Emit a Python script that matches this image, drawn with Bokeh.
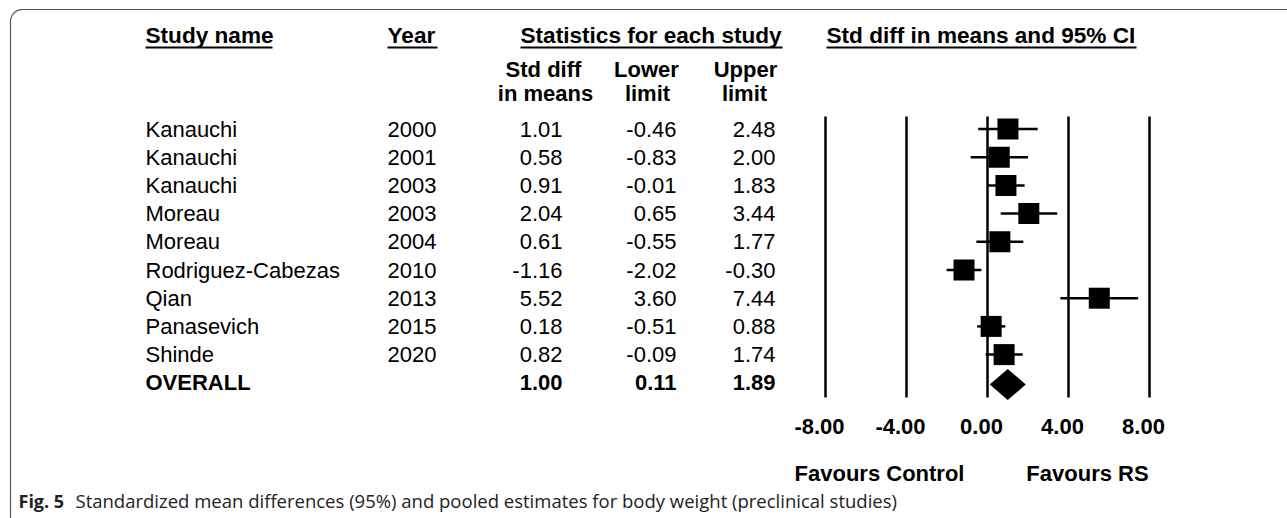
import math
from bokeh.plotting import figure
from bokeh.models import Range1d
from bokeh.core.properties import value
from bokeh.embed import file_html
from bokeh.resources import INLINE

# ---------------- data ----------------
studies = ["Kanauchi", "Kanauchi", "Kanauchi", "Moreau", "Moreau",
           "Rodriguez-Cabezas", "Qian", "Panasevich", "Shinde"]
years = ["2000", "2001", "2003", "2003", "2004", "2010", "2013", "2015", "2020"]
smd = [1.01, 0.58, 0.91, 2.04, 0.61, -1.16, 5.52, 0.18, 0.82]
lower = [-0.46, -0.83, -0.01, 0.65, -0.55, -2.02, 3.60, -0.51, -0.09]
upper = [2.48, 2.00, 1.83, 3.44, 1.77, -0.30, 7.44, 0.88, 1.74]
overall_label = "OVERALL"
overall = [1.00, 0.11, 1.89]  # estimate, lower, upper
ticks = [-8.0, -4.0, 0.0, 4.0, 8.0]
favours = ["Favours Control", "Favours RS"]
caption_bold = "Fig. 5"
caption_text = "Standardized mean differences (95%) and pooled estimates for body weight (preclinical studies)"

# ---------------- layout helpers (page pixels -> data) ----------------
W, H = 1287, 518
PX0, PY0 = 0, 0            # page position of the canvas
X0, SX = 987.0, 20.25      # page x of effect 0, px per unit
Y0, SY = 128.5, 28.2       # page y of row 0, px per row


def dx(px):
    return (px - X0) / SX


def dy(py):
    return (py - Y0) / SY


p = figure(width=W, height=H,
           x_range=Range1d(dx(PX0), dx(PX0 + W)),
           y_range=Range1d(dy(PY0 + H), dy(PY0)),
           x_axis_type=None, y_axis_type=None,
           output_backend="svg", toolbar_location=None, min_border=0)
p.outline_line_color = None
p.background_fill_color = "white"
p.border_fill_color = "white"

ARIAL = value("Liberation Sans")
BLACK = "#000000"

# ---- frame (top + left border with rounded corner) ----
r = 12
cx, cy = 10 + r, 9 + r
arc_x = [cx - r * math.cos(t * math.pi / 2 / 12) for t in range(13)]
arc_y = [cy - r * math.sin(t * math.pi / 2 / 12) for t in range(13)]
fx = [10] + arc_x + [1295]
fy = [525] + arc_y + [9]
p.line([dx(v) for v in fx], [dy(v) for v in fy], line_color="#555555", line_width=1.2)

rows = list(range(len(studies)))
orow = len(studies)

# ---- headers ----
hdr_font = "22.6px"
headers = [("Study name", 145, 145, 272), ("Year", 387, 387, 437),
           ("Statistics for each study", 520, 520, 782),
           ("Std diff in means and 95% CI", 826, 826, 1136)]
for txt, x, u0, u1 in headers:
    p.text(x=[dx(x)], y=[dy(35)], text=[txt], text_font=ARIAL, text_font_size=hdr_font,
           text_font_style="bold", text_baseline="middle", text_align="left", text_color=BLACK)
    p.segment(x0=[dx(u0)], y0=[dy(47)], x1=[dx(u1)], y1=[dy(47)], line_color=BLACK, line_width=2)

sub = [("Std diff", 543, 69), ("in means", 545, 93), ("Lower", 646, 69), ("limit", 647, 93),
       ("Upper", 745, 69), ("limit", 744, 93)]
for txt, x, y in sub:
    p.text(x=[dx(x)], y=[dy(y)], text=[txt], text_font=ARIAL, text_font_size="22px",
           text_font_style="bold", text_baseline="middle", text_align="center", text_color=BLACK)

# ---- study rows ----
common = dict(text_font=ARIAL, text_font_size="22px", text_baseline="middle", text_color=BLACK)
p.text(x=[dx(145)] * len(rows), y=rows, text=studies, text_align="left", **common)
p.text(x=[dx(387)] * len(rows), y=rows, text=years, text_align="left", **common)
p.text(x=[dx(562)] * len(rows), y=rows, text=[f"{v:.2f}" for v in smd], text_align="right", **common)
p.text(x=[dx(676)] * len(rows), y=rows, text=[f"{v:.2f}" for v in lower], text_align="right", **common)
p.text(x=[dx(775)] * len(rows), y=rows, text=[f"{v:.2f}" for v in upper], text_align="right", **common)

# overall row
p.text(x=[dx(145)], y=[orow], text=[overall_label], text_align="left", text_font_style="bold", **common)
for xx, v in zip([562, 676, 775], overall):
    p.text(x=[dx(xx)], y=[orow], text=[f"{v:.2f}"], text_align="right", text_font_style="bold", **common)

# ---- forest plot ----
p.segment(x0=ticks, y0=[dy(116)] * len(ticks), x1=ticks, y1=[dy(397)] * len(ticks),
          line_color=BLACK, line_width=2.5)
p.segment(x0=lower, y0=rows, x1=upper, y1=rows, line_color=BLACK, line_width=2.5)
p.scatter(x=smd, y=rows, marker="square", size=21, fill_color=BLACK, line_color=None)

est, lo, hi = overall
dyc = dy(384)
hh = 15.5 / SY
p.patch(x=[lo, est, hi, est], y=[dyc, dyc - hh, dyc, dyc + hh], fill_color=BLACK, line_color=None)

p.text(x=ticks, y=[dy(426)] * len(ticks), text=[f"{t:.2f}" for t in ticks], text_align="center",
       x_offset=-6, text_font=ARIAL, text_font_size="22px", text_font_style="bold",
       text_baseline="middle", text_color=BLACK)
p.text(x=[dx(879), dx(1087)], y=[dy(473)] * 2, text=favours, text_align="center",
       text_font=ARIAL, text_font_size="22px", text_font_style="bold",
       text_baseline="middle", text_color=BLACK)

# ---- caption ----
p.text(x=[dx(18)], y=[dy(500)], text=[caption_bold], text_align="left", text_baseline="middle",
       text_font=value("Open Sans"), text_font_size="18px", text_font_style="bold", text_color="#222222")
p.text(x=[dx(75)], y=[dy(500)], text=[caption_text], text_align="left", text_baseline="middle",
       text_font=value("Open Sans"), text_font_size="18.5px", text_color="#222222")

open("out.html", "w").write(file_html(p, INLINE))
